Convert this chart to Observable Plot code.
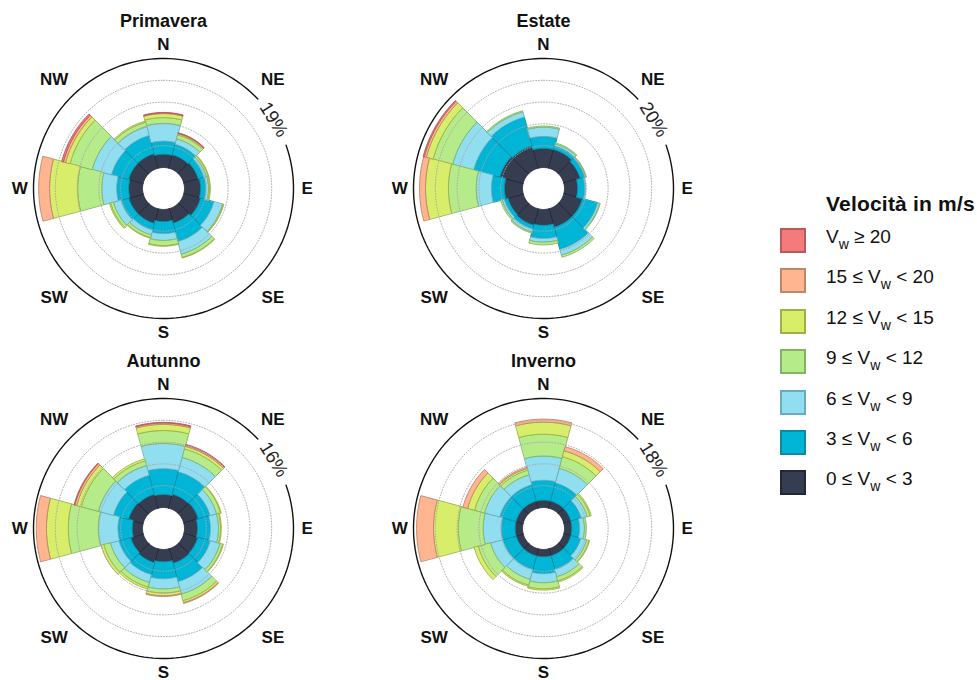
<!DOCTYPE html>
<html>
<head>
<meta charset="utf-8">
<script src="https://cdn.jsdelivr.net/npm/d3@7"></script>
<script src="https://cdn.jsdelivr.net/npm/@observablehq/plot@0.6"></script>
<style>
  body { margin: 0; background: #fff; font-family: "Liberation Sans", Arial, Helvetica, sans-serif; }
  #wrap { position: relative; width: 977px; height: 680px; overflow: hidden; }
  .panel { position: absolute; }
  .ltitle { position: absolute; left: 826px; top: 192px; font-size: 21px; font-weight: bold; color: #111; white-space: nowrap; letter-spacing: 0.2px; }
  .lrow { position: absolute; left: 780px; height: 25px; white-space: nowrap; }
  .lsw { position: absolute; left: 0; top: 0; width: 22px; height: 21px; border: 2.5px solid; }
  .ltx { position: absolute; left: 46px; top: -4px; line-height: 25px; font-size: 19px; color: #111; }
  .ltx sub { font-size: 14px; vertical-align: -6px; line-height: 0; }
</style>
</head>
<body>
<div id="wrap"></div>
<script>
// Sector centres (degrees clockwise from north) and compass annotations
const sectorAngles = [0, 30, 60, 90, 120, 150, 180, 210, 240, 270, 300, 330];
const compassNames = ["N", "NE", "E", "SE", "S", "SW", "W", "NW"];
const compassAngles = [0, 45, 90, 135, 180, 225, 270, 315];

// Seasons and the value (%) of the outer ring in each rose
const seasonNames = ["Primavera", "Estate", "Autunno", "Inverno"];
const ringLimits = [19, 20, 16, 18];

// Wind speed classes (m/s)
const speedBreaks = [0, 3, 6, 9, 12, 15, 20];

// Frequency (%) per speed class (rows, slowest first) and sector (columns)
const primavera = [
  [2.3, 2.4, 2.6, 2.8, 3.0, 2.6, 2.1, 2.6, 2.6, 2.4, 2.6, 2.6],
  [2.3, 1.9, 1.0, 0.9, 2.4, 3.3, 2.1, 1.2, 1.4, 2.1, 3.1, 3.3],
  [3.1, 1.0, 0.5, 0.5, 1.6, 2.3, 1.2, 0.9, 1.4, 2.6, 3.5, 1.6],
  [1.0, 0.7, 0.3, 0.2, 0.1, 0.6, 0.9, 0.5, 0.5, 4.2, 4.0, 0.8],
  [0.7, 0.2, 0.1, 0.1, 0.1, 0.1, 0.1, 0.1, 0.2, 4.9, 0.8, 0.2],
  [0.1, 0.1, 0.0, 0.0, 0.0, 0.0, 0.0, 0.0, 0.0, 1.9, 0.4, 0.0],
  [0.1, 0.1, 0.0, 0.0, 0.0, 0.0, 0.0, 0.0, 0.0, 0.0, 0.3, 0.0]
];
const estate = [
  [3.5, 3.5, 3.1, 2.4, 3.5, 3.5, 2.9, 3.1, 2.9, 3.3, 4.4, 4.2],
  [2.2, 0.7, 0.9, 1.3, 2.9, 4.2, 2.4, 0.7, 0.7, 2.4, 5.0, 5.5],
  [1.7, 0.4, 0.2, 0.2, 0.4, 1.1, 0.7, 0.6, 0.4, 2.8, 4.0, 1.0],
  [0.2, 0.2, 0.1, 0.0, 0.1, 0.4, 0.5, 0.2, 0.3, 5.1, 3.7, 0.2],
  [0.0, 0.0, 0.0, 0.0, 0.0, 0.0, 0.0, 0.0, 0.0, 4.2, 1.3, 0.0],
  [0.0, 0.0, 0.0, 0.0, 0.0, 0.0, 0.0, 0.0, 0.0, 1.1, 0.4, 0.0],
  [0.0, 0.0, 0.0, 0.0, 0.0, 0.0, 0.0, 0.0, 0.0, 0.0, 0.2, 0.0]
];
const autunno = [
  [1.9, 2.1, 2.2, 1.9, 2.1, 2.2, 1.8, 2.1, 1.9, 1.5, 2.2, 2.1],
  [3.8, 3.4, 1.8, 1.9, 1.9, 2.8, 2.5, 1.8, 1.8, 2.1, 2.3, 2.9],
  [3.7, 2.2, 1.0, 1.2, 1.5, 1.9, 1.5, 1.2, 1.3, 2.9, 2.3, 1.5],
  [1.9, 1.3, 0.6, 0.3, 0.4, 1.0, 0.6, 0.7, 1.0, 4.4, 2.6, 0.7],
  [0.9, 0.4, 0.1, 0.1, 0.1, 0.3, 0.4, 0.3, 0.4, 3.2, 0.7, 0.3],
  [0.2, 0.2, 0.0, 0.0, 0.0, 0.1, 0.1, 0.0, 0.0, 1.5, 0.3, 0.0],
  [0.1, 0.1, 0.0, 0.0, 0.0, 0.0, 0.0, 0.0, 0.0, 0.0, 0.1, 0.0]
];
const inverno = [
  [1.2, 1.2, 1.2, 1.2, 1.2, 1.2, 1.2, 1.2, 1.2, 1.2, 1.2, 1.2],
  [3.3, 3.1, 1.8, 1.3, 1.7, 2.3, 2.8, 2.3, 2.3, 2.3, 2.8, 2.8],
  [4.0, 2.5, 1.0, 0.8, 1.0, 1.3, 1.5, 1.7, 2.1, 3.0, 2.6, 1.7],
  [3.6, 2.0, 0.5, 0.3, 0.4, 0.7, 1.0, 1.0, 2.1, 4.1, 1.7, 0.8],
  [2.0, 1.0, 0.2, 0.0, 0.1, 0.2, 0.2, 0.2, 0.7, 4.1, 1.2, 0.3],
  [0.5, 0.7, 0.0, 0.0, 0.0, 0.0, 0.0, 0.0, 0.0, 2.8, 0.8, 0.2],
  [0.0, 0.0, 0.0, 0.0, 0.0, 0.0, 0.0, 0.0, 0.0, 0.0, 0.0, 0.0]
];
const seasonValues = [primavera, estate, autunno, inverno];

// Styling
const speedFills = ["#363d50", "#00b5d6", "#90def0", "#b6eb8a", "#d8ee6a", "#ffb58f", "#f47b7b"];
const speedStrokes = ["#22283a", "#0a8aa3", "#66aebf", "#84b463", "#a0b048", "#bd876b", "#b65a5a"];

const PANEL_W = 326, PANEL_H = 340, CX = 163, CY = 178;
const RING_PX = 130;            // outer ring radius in pixels
const HOLE = 21 / RING_PX;      // empty centre, as a fraction of the ring
const LABEL_ANGLE = 58;         // where the ring value is written
const GAP = [47.5, 70.5];       // break in the ring around that value
const panelPos = [[0, 10], [380, 10], [0, 350], [380, 350]];

const rad = d => d * Math.PI / 180;
const px = (r, a) => r * Math.sin(rad(a));
const py = (r, a) => r * Math.cos(rad(a));
const radius = (v, max) => HOLE + (1 - HOLE) * v / max;

function wedgeRows(values, max) {
  const half = 180 / sectorAngles.length, steps = 12, rows = [];
  sectorAngles.forEach((dir, j) => {
    let cum = 0;
    values.forEach((series, k) => {
      const v = series[j];
      if (v > 0) {
        const r0 = radius(cum, max), r1 = radius(cum + v, max), id = j + "-" + k;
        for (let s = 0; s <= steps; s++) {
          const a = dir - half + 2 * half * s / steps;
          rows.push({id, k, x: px(r1, a), y: py(r1, a)});
        }
        for (let s = steps; s >= 0; s--) {
          const a = dir - half + 2 * half * s / steps;
          rows.push({id, k, x: px(r0, a), y: py(r0, a)});
        }
      }
      cum += v;
    });
  });
  return rows;
}

function circleRows(r, from, to, key) {
  const rows = [];
  for (let a = from; a <= to + 1e-9; a += 2) rows.push({key, x: px(r, a), y: py(r, a)});
  return rows;
}

const wrap = d3.select("#wrap");

seasonNames.forEach((name, i) => {
  const max = ringLimits[i];
  const rows = wedgeRows(seasonValues[i], max);
  const grid = d3.range(1, 5).flatMap(g => circleRows(radius(max * g / 5, max), 0, 360, g));
  const ring = circleRows(1, GAP[1], GAP[0] + 360, "ring");
  const compass = compassNames.map((n, j) => ({n, a: compassAngles[j], r: compassAngles[j] % 90 ? 1.19 : 1.105}));

  const marks = speedFills.map((fill, k) =>
    Plot.line(rows.filter(d => d.k === k), {
      x: "x", y: "y", z: "id", curve: "linear-closed",
      fill, stroke: speedStrokes[k], strokeWidth: 0.9
    })
  );
  marks.push(
    Plot.line(grid, {x: "x", y: "y", z: "key", curve: "linear-closed", stroke: "#a8a8a8", strokeWidth: 0.9, strokeDasharray: "1,1.8"}),
    Plot.line(ring, {x: "x", y: "y", stroke: "#111", strokeWidth: 1.4}),
    Plot.text([max], {x: () => px(1, LABEL_ANGLE), y: () => py(1, LABEL_ANGLE), text: d => d + "%", rotate: LABEL_ANGLE, fontSize: 18.5, fill: "#222"}),
    Plot.text(compass, {x: d => px(d.r, d.a), y: d => py(d.r, d.a), text: "n", fontSize: 17, fontWeight: "bold", fill: "#111"}),
    Plot.text([name], {frameAnchor: "top", lineAnchor: "middle", dy: 11, text: d => d, fontSize: 18, fontWeight: "bold", fill: "#111"})
  );

  const svg = Plot.plot({
    width: PANEL_W, height: PANEL_H,
    marginTop: 0, marginRight: 0, marginBottom: 0, marginLeft: 0,
    x: {domain: [-CX / RING_PX, (PANEL_W - CX) / RING_PX], axis: null},
    y: {domain: [-(PANEL_H - CY) / RING_PX, CY / RING_PX], axis: null},
    style: {fontFamily: "Liberation Sans, Arial, Helvetica, sans-serif", background: "transparent", overflow: "visible"},
    marks
  });
  const node = wrap.append("div").attr("class", "panel")
    .style("left", panelPos[i][0] + "px").style("top", panelPos[i][1] + "px").node();
  node.appendChild(svg);
});

// Legend: fastest class on top
wrap.append("div").attr("class", "ltitle").text("Velocità in m/s");
const legendOrder = d3.range(speedFills.length).reverse();
legendOrder.forEach((k, row) => {
  const lo = speedBreaks[k], hi = speedBreaks[k + 1];
  const label = hi === undefined
    ? `V<sub>w</sub> ≥ ${lo}`
    : `${lo} ≤ V<sub>w</sub> &lt; ${hi}`;
  const r = wrap.append("div").attr("class", "lrow").style("top", (228 + row * 40.4) + "px");
  r.append("div").attr("class", "lsw").style("background", speedFills[k]).style("border-color", speedStrokes[k]);
  r.append("div").attr("class", "ltx").html(label);
});
</script>
</body>
</html>
